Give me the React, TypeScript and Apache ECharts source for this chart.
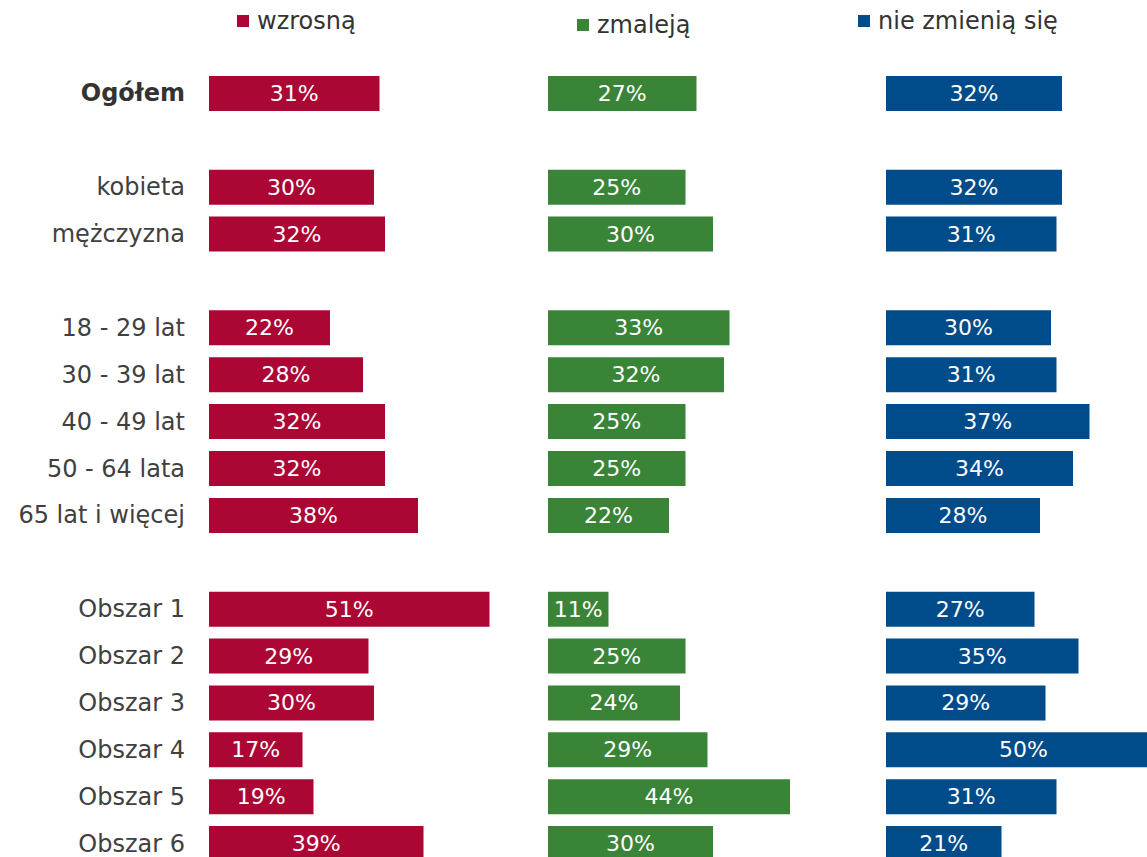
import React, { useEffect, useRef } from "react";
import * as echarts from "echarts";

const categories = [
  "Ogółem",
  " ",
  "kobieta",
  "mężczyzna",
  "  ",
  "18 - 29 lat",
  "30 - 39 lat",
  "40 - 49 lat",
  "50 - 64 lata",
  "65 lat i więcej",
  "   ",
  "Obszar 1",
  "Obszar 2",
  "Obszar 3",
  "Obszar 4",
  "Obszar 5",
  "Obszar 6",
];

const seriesNames = ["wzrosną", "zmaleją", "nie zmienią się"];

const wzrosna = [31, null, 30, 32, null, 22, 28, 32, 32, 38, null, 51, 29, 30, 17, 19, 39];
const zmaleja = [27, null, 25, 30, null, 33, 32, 25, 25, 22, null, 11, 25, 24, 29, 44, 30];
const nieZmienia = [32, null, 32, 31, null, 30, 31, 37, 34, 28, null, 27, 35, 29, 50, 31, 21];

const colors = ["#AB0634", "#3A8438", "#004B8A"];
const FONT = "'DejaVu Sans', sans-serif";

export default function App() {
  const ref = useRef<HTMLDivElement>(null);
  useEffect(() => {
    if (!ref.current) return;
    const chart = echarts.init(ref.current, null, { renderer: "svg" });
    const lefts = [209, 548, 886];
    const legendPos = [
      { left: 237, top: 9 },
      { left: 577, top: 13 },
      { left: 858, top: 9 },
    ];
    const allData = [wzrosna, zmaleja, nieZmienia];
    chart.setOption({
      animation: false,
      textStyle: { fontFamily: FONT },
      legend: seriesNames.map((n, i) => ({
        data: [n],
        left: legendPos[i].left,
        top: legendPos[i].top,
        padding: 0,
        icon: "rect",
        itemWidth: 12,
        itemHeight: 12,
        selectedMode: false,
        textStyle: { fontSize: 24, color: "#333333", fontFamily: FONT, padding: [0, 0, 0, 3] },
      })),
      grid: lefts.map((l) => ({ left: l, top: 70, width: 330, height: 797 })),
      xAxis: lefts.map((_, i) => ({
        type: "value",
        gridIndex: i,
        min: 0,
        max: 60,
        show: false,
      })),
      yAxis: lefts.map((_, i) => ({
        type: "category",
        gridIndex: i,
        data: categories,
        inverse: true,
        show: i === 0,
        axisLine: { show: false },
        axisTick: { show: false },
        splitLine: { show: false },
        axisLabel: {
          show: i === 0,
          margin: 24,
          fontSize: 24,
          color: "#404040",
          fontFamily: FONT,
          formatter: (v: string) => (v === "Ogółem" ? "{b|" + v + "}" : v),
          rich: {
            b: { fontWeight: "bold", fontSize: 24, color: "#333333", fontFamily: FONT },
          },
        },
      })),
      series: seriesNames.map((n, i) => ({
        name: n,
        type: "bar",
        xAxisIndex: i,
        yAxisIndex: i,
        data: allData[i],
        barWidth: 35,
        itemStyle: { color: colors[i] },
        label: {
          show: true,
          position: "inside",
          color: "#ffffff",
          fontSize: 22,
          fontFamily: FONT,
          formatter: (p: any) => p.value + "%",
        },
      })),
    });
    return () => chart.dispose();
  }, []);
  return (
    <div
      style={{
        position: "absolute",
        left: 0,
        top: 0,
        width: 1147,
        height: 857,
        overflow: "hidden",
        background: "#fff",
      }}
    >
      <div ref={ref} style={{ width: 1260, height: 900 }} />
    </div>
  );
}
